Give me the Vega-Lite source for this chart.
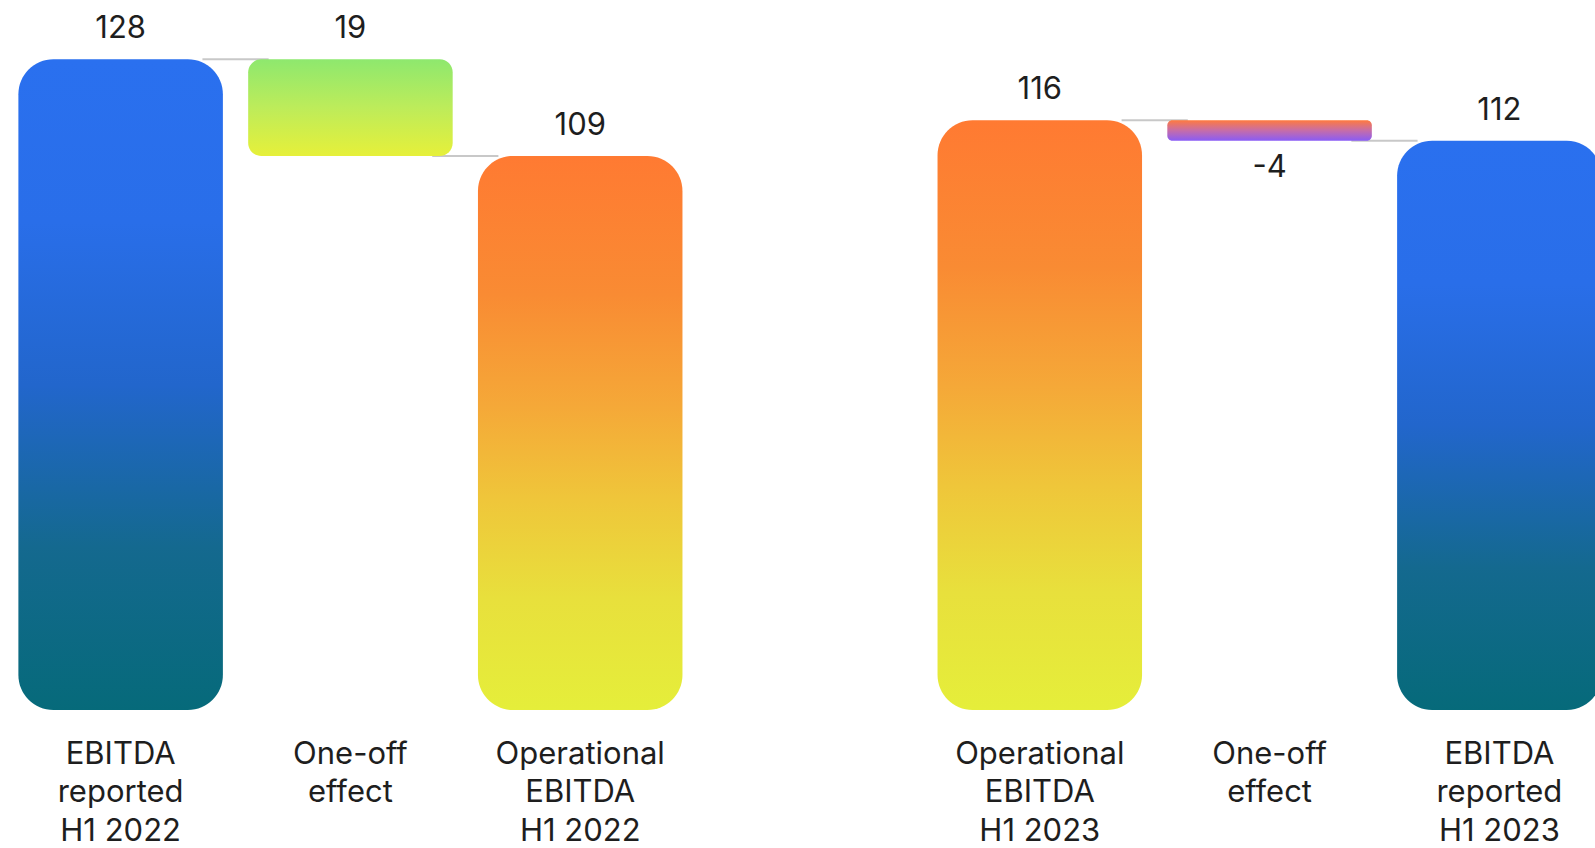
{
  "$schema": "https://vega.github.io/schema/vega-lite/v6.json",
  "width": 1595,
  "height": 710,
  "autosize": {"type": "none"},
  "padding": {"left": 0, "top": 0, "right": 0, "bottom": 138},
  "background": "white",
  "config": {"view": {"stroke": null}, "font": "Inter"},
  "datasets": {
    "bars": [
      {"id": "c1", "label": "EBITDA\nreported\nH1 2022", "start": 0, "end": 128, "value": "128", "kind": "blue", "pos": "above"},
      {"id": "c2", "label": "One-off\neffect", "start": 109, "end": 128, "value": "19", "kind": "green", "pos": "above"},
      {"id": "c3", "label": "Operational\nEBITDA\nH1 2022", "start": 0, "end": 109, "value": "109", "kind": "orange", "pos": "above"},
      {"id": "c4", "label": "Operational\nEBITDA\nH1 2023", "start": 0, "end": 116, "value": "116", "kind": "orange", "pos": "above"},
      {"id": "c5", "label": "One-off\neffect", "start": 112, "end": 116, "value": "-4", "kind": "purple", "pos": "below"},
      {"id": "c6", "label": "EBITDA\nreported\nH1 2023", "start": 0, "end": 112, "value": "112", "kind": "blue", "pos": "above"}
    ],
    "links": [
      {"from": "c1", "to": "c2", "level": 128},
      {"from": "c2", "to": "c3", "level": 109},
      {"from": "c4", "to": "c5", "level": 116},
      {"from": "c5", "to": "c6", "level": 112}
    ]
  },
  "encoding": {
    "x": {
      "field": "id",
      "type": "nominal",
      "axis": null,
      "scale": {
        "type": "band",
        "domain": ["c1", "c2", "c3", "gap", "c4", "c5", "c6"],
        "range": [0, 1620],
        "paddingInner": 0.11,
        "paddingOuter": 0.08
      }
    }
  },
  "layer": [
    {
      "data": {"name": "links"},
      "mark": {"type": "rule", "color": "#C8C8C8", "strokeWidth": 2},
      "encoding": {
        "x": {"field": "from", "type": "nominal", "axis": null, "bandPosition": 0.9},
        "x2": {"field": "to", "bandPosition": 0.1},
        "y": {"field": "level", "type": "quantitative", "axis": null, "scale": {"domain": [0, 139.67], "nice": false, "zero": true}}
      }
    },
    {
      "data": {"name": "bars"},
      "transform": [{"filter": "datum.kind === 'blue'"}],
      "mark": {
        "type": "bar",
        "cornerRadius": 35,
        "color": {"gradient": "linear", "x1": 0, "y1": 0, "x2": 0, "y2": 1,
          "stops": [
            {"offset": 0, "color": "#2A70EF"},
            {"offset": 0.25, "color": "#296EE9"},
            {"offset": 0.5, "color": "#2266CC"},
            {"offset": 0.75, "color": "#14698F"},
            {"offset": 1, "color": "#066A7A"}
          ]}
      },
      "encoding": {
        "y": {"field": "start", "type": "quantitative", "axis": null, "scale": {"domain": [0, 139.67], "nice": false, "zero": true}},
        "y2": {"field": "end"}
      }
    },
    {
      "data": {"name": "bars"},
      "transform": [{"filter": "datum.kind === 'orange'"}],
      "mark": {
        "type": "bar",
        "cornerRadius": 35,
        "color": {"gradient": "linear", "x1": 0, "y1": 0, "x2": 0, "y2": 1,
          "stops": [
            {"offset": 0, "color": "#FF7A32"},
            {"offset": 0.25, "color": "#F98B33"},
            {"offset": 0.45, "color": "#F5A838"},
            {"offset": 0.62, "color": "#EFC63A"},
            {"offset": 0.8, "color": "#E8E03C"},
            {"offset": 1, "color": "#E5EE3A"}
          ]}
      },
      "encoding": {
        "y": {"field": "start", "type": "quantitative"},
        "y2": {"field": "end"}
      }
    },
    {
      "data": {"name": "bars"},
      "transform": [{"filter": "datum.kind === 'green'"}],
      "mark": {
        "type": "bar",
        "cornerRadius": 13,
        "color": {"gradient": "linear", "x1": 0, "y1": 0, "x2": 0, "y2": 1,
          "stops": [
            {"offset": 0, "color": "#8EE86E"},
            {"offset": 0.5, "color": "#BDEC5A"},
            {"offset": 1, "color": "#E6F03A"}
          ]}
      },
      "encoding": {
        "y": {"field": "start", "type": "quantitative"},
        "y2": {"field": "end"}
      }
    },
    {
      "data": {"name": "bars"},
      "transform": [{"filter": "datum.kind === 'purple'"}],
      "mark": {
        "type": "bar",
        "cornerRadius": 5,
        "color": {"gradient": "linear", "x1": 0, "y1": 0, "x2": 0, "y2": 1,
          "stops": [
            {"offset": 0, "color": "#FF7A40"},
            {"offset": 0.5, "color": "#C66DA8"},
            {"offset": 1, "color": "#8A5CF5"}
          ]}
      },
      "encoding": {
        "y": {"field": "start", "type": "quantitative"},
        "y2": {"field": "end"}
      }
    },
    {
      "data": {"name": "bars"},
      "transform": [{"filter": "datum.pos === 'above'"}],
      "mark": {"type": "text", "fontSize": 31, "font": "Inter", "color": "#1E1E1E", "baseline": "alphabetic", "align": "center", "dy": -21},
      "encoding": {
        "y": {"field": "end", "type": "quantitative"},
        "text": {"field": "value"}
      }
    },
    {
      "data": {"name": "bars"},
      "transform": [{"filter": "datum.pos === 'below'"}],
      "mark": {"type": "text", "fontSize": 31, "font": "Inter", "color": "#1E1E1E", "baseline": "alphabetic", "align": "center", "dy": 36},
      "encoding": {
        "y": {"field": "start", "type": "quantitative"},
        "text": {"field": "value"}
      }
    },
    {
      "data": {"name": "bars"},
      "mark": {"type": "text", "fontSize": 31, "font": "Inter", "color": "#1E1E1E", "baseline": "alphabetic", "align": "center", "dy": 54, "lineBreak": "\n", "lineHeight": 38.3},
      "encoding": {
        "y": {"datum": 0, "type": "quantitative"},
        "text": {"field": "label"}
      }
    }
  ]
}
